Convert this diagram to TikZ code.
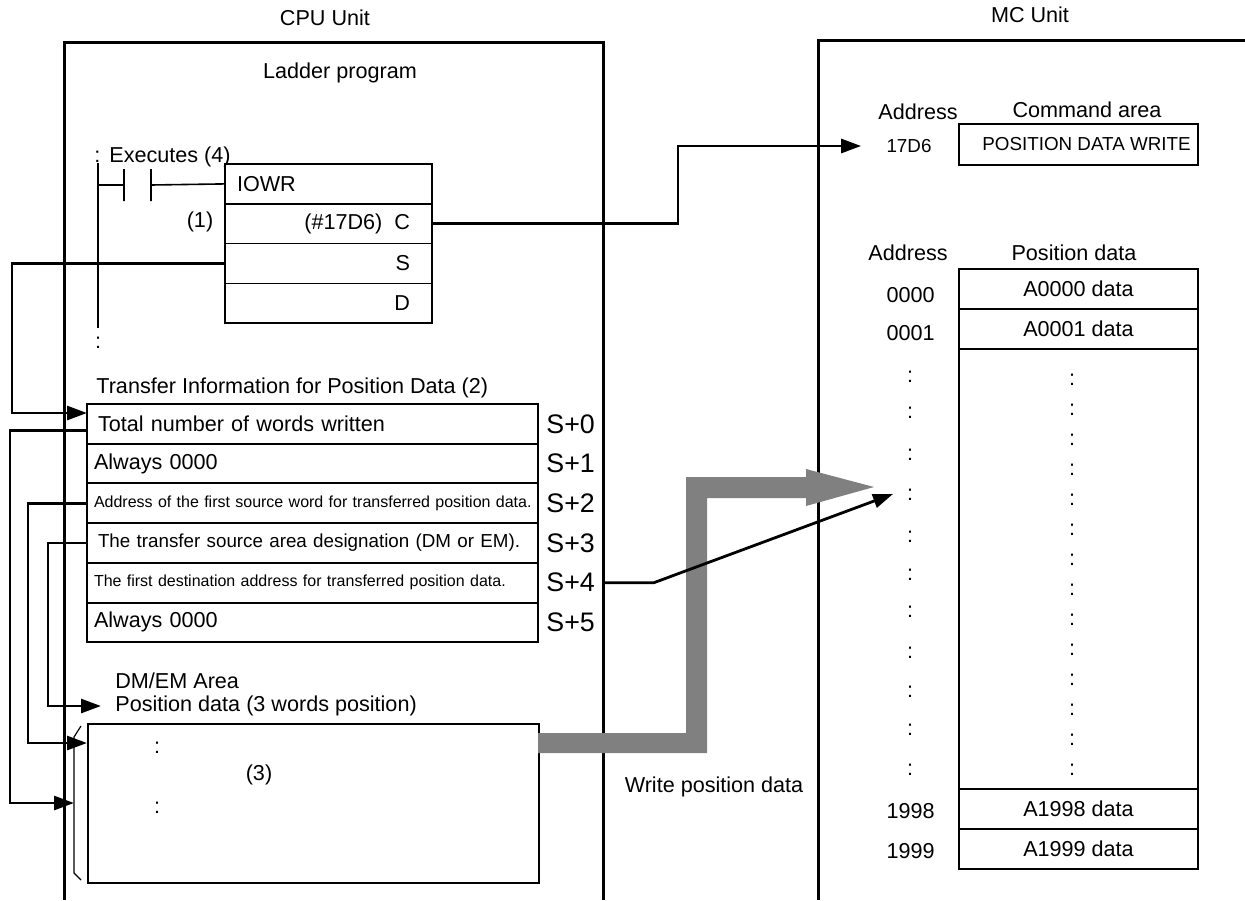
\documentclass[tikz,border=0pt]{standalone}
\usepackage{fontspec}
\setmainfont{Liberation Sans}
\usetikzlibrary{arrows.meta, positioning}

\newcommand\fsmain{\fontsize{10.8}{13}\selectfont}
\newcommand\fssmall{\fontsize{8}{10}\selectfont}
\newcommand\fsmid{\fontsize{9.4}{11}\selectfont}
\newcommand\fsbig{\fontsize{13.4}{16}\selectfont}

\begin{document}
\begin{tikzpicture}[
  x=0.5pt, y=-0.5pt,
  every node/.style={font=\fsmain, inner sep=0pt},
  unit/.style={line width=1.5pt},
  rung/.style={line width=0.8pt},
  fb/.style={draw, line width=0.8pt, outer sep=0pt, minimum height=19.9pt, text width=81.5pt, inner xsep=11pt, align=right},
  cell/.style={draw, line width=1pt, outer sep=0pt, minimum height=19.85pt, text width=221pt, inner xsep=2.25pt, align=left},
  mcell/.style={draw, line width=0.9pt, outer sep=0pt, minimum width=119.5pt, minimum height=20pt},
  link/.style={line width=1.4pt},
  >={Triangle[length=10pt, width=7pt]}
]
\useasboundingbox (0,0) rectangle (1245,900);

% units
\draw[unit] (64,900) -- (64,42) -- (603,42) -- (603,900);
\draw[unit] (818,900) -- (818,40) -- (1245,40);
\coordinate (cpuR) at (603,42);
\node (cpu) at (325,18) {CPU Unit};
\node (mc) at (1030,15) {MC Unit};
\node (ladder) at (340,73) {Ladder program};

% ladder program
\node[anchor=west] (exec) at (94,157) {:\hspace{4.5pt}Executes (4)};
\node[fb, anchor=north west, align=left, text width=91.5pt, inner xsep=6pt] (iowr) at (225,164) {IOWR};
\node[fb, below=0pt of iowr] (rowC) {(\#17D6)\hspace{6pt}C};
\node[fb, below=0pt of rowC] (rowS) {S};
\node[fb, below=0pt of rowS] (rowD) {D};
\node (n1) at (200,222) {(1)};
\draw[rung] (98,163) -- (98,328);
\draw[rung] (98,185) -- (124,185) (124,169) -- (124,201) (151,169) -- (151,201) (151,185) -- (iowr.west);
\node (dots1) at (98,343) {:};

% transfer information
\node[anchor=west] (ttl) at (96,388) {Transfer Information for Position Data (2)};
\node[cell, anchor=north west] (t0) at (87,404) {\hspace*{3.25pt}Total number of words written};
\node[cell, below=0pt of t0] (t1) {\hspace*{1.25pt}Always 0000};
\node[cell, below=0pt of t1, font=\fssmall] (t2) {\hspace*{1.25pt}Address of the first source word for transferred position data.};
\node[cell, below=0pt of t2, font=\fsmid] (t3) {\hspace*{3.25pt}The transfer source area designation (DM or EM).};
\node[cell, below=0pt of t3, font=\fssmall] (t4) {\hspace*{1.25pt}The first destination address for transferred position data.};
\node[cell, below=0pt of t4] (t5) {\hspace*{1.25pt}Always 0000};
\foreach \i in {0,...,5}
  \node[font=\fsbig, right=4pt of t\i] (s\i) {S+\i};

% DM/EM area
\node[anchor=west] (dmlbl) at (115,681) {DM/EM Area};
\node[anchor=west] (pd) at (115,706) {Position data (3 words position)};
\node[draw, line width=1pt, minimum width=225.5pt, minimum height=79.5pt, anchor=north west] (dm) at (87,723) {};
\node (dots2) at (157,748) {:};
\node (n3) at (259,775) {(3)};
\node (dots3) at (157,808) {:};
\draw[line width=0.6pt] (81,726) -- (74,737) -- (74,873) -- (81,880);
\coordinate (dmA) at (74,803);

% connectors
\coordinate (sin) at (87,413);
\draw[link,->] (rowS.west) -| ([xshift=-37.5pt]sin) -- (sin);
\draw[link,->] ([yshift=-3.5pt]t0.west) -| ([xshift=-32pt]dmA) -- (dmA);
\draw[link,->] (t2.west) -| ([xshift=-29.5pt,yshift=-10pt]dm.north west) -- ([yshift=-10pt]dm.north west);
\draw[link,->] (t3.west) -| ([xshift=-33.5pt]pd.west) -- ([xshift=-7pt]pd.west);

% write position data
\fill[black!50] (538,733) -- (686,733) -- (686,477) -- (806,477) -- (806,469) -- (874,487)
  -- (806,506) -- (806,498) -- (707,498) -- (707,753) -- (538,753) -- cycle;
\node (wpd) at (714,787) {Write position data};

% MC unit
\node (addr1) at (918,112) {Address};
\node (cmdttl) at (1087,110) {Command area};
\node[font=\fsmid] (a17) at (909,146) {17D6};
\node[mcell, anchor=north west, minimum height=20.5pt, font=\fsmid] (cmd) at (959,124) {\hspace*{8pt}POSITION DATA WRITE};
\draw[link,->] (rowC.east) -- ++(123pt,0) |- ([xshift=-12.5pt]a17.west);

\node (addr2) at (908,253) {Address};
\node (pdttl) at (1074,253) {Position data};
\node[mcell, anchor=north west] (p0) at (959,269) {A0000 data};
\node[mcell, below=0pt of p0] (p1) {A0001 data};
\node[mcell, below=0pt of p1, minimum height=220pt] (pmid) {};
\node[mcell, below=0pt of pmid] (p1998) {A1998 data};
\node[mcell, below=0pt of p1998] (p1999) {A1999 data};
\node[left=12pt of p0, yshift=-3pt] (ad0) {0000};
\node[left=12pt of p1, yshift=-2pt] (ad1) {0001};
\node[left=12pt of p1998, yshift=-1pt] (ad1998) {1998};
\node[left=12pt of p1999, yshift=-1pt] (ad1999) {1999};
\foreach \y in {377,413,455,495,537,575,612,653,692,730,770}
  \node at (910,\y) {:};
\foreach \y in {380,410,...,770}
  \node at (1072,\y) {:};

\coordinate (mcin) at (893,494);
\draw[link,->] (s4 -| cpuR) -- ++(25.5pt,0) -- (mcin);
\end{tikzpicture}
\end{document}
